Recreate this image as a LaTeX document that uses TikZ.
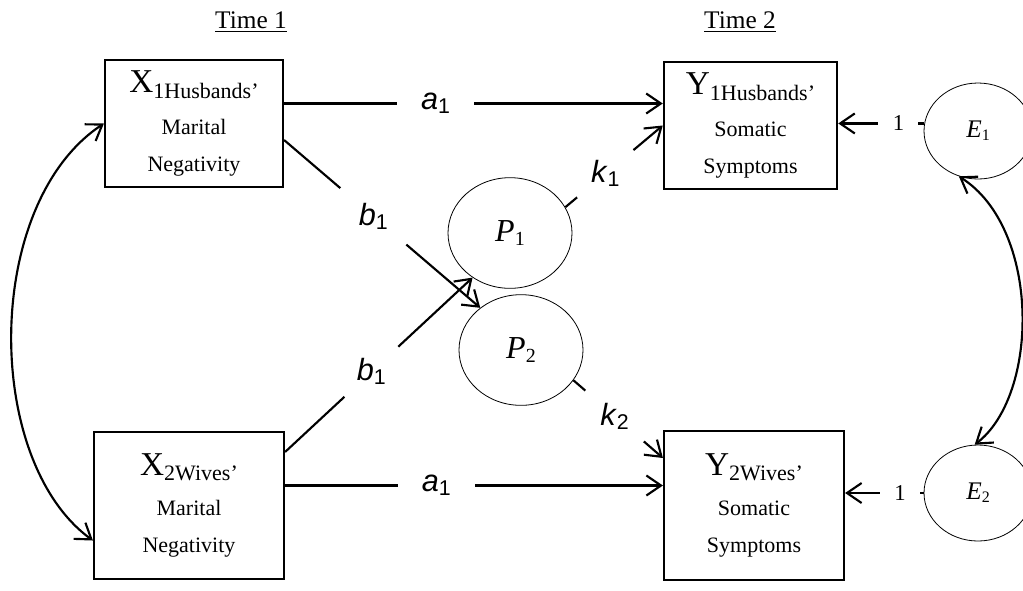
\documentclass[tikz,border=0pt]{standalone}
\usepackage{fontspec}
\setmainfont{Liberation Serif}
\newfontfamily\arialfont{Liberation Sans}
\usepackage{tikz}
\usetikzlibrary{arrows.meta,calc,shapes.geometric}
\newcommand{\coef}[2]{{\arialfont\fontsize{23}{25}\selectfont\textit{#1}\raisebox{-3pt}{\fontsize{16}{18}\selectfont #2}}}
\newcommand{\latvar}[2]{{\fontsize{24}{26}\selectfont\textit{#1}\raisebox{-3pt}{\fontsize{15}{17}\selectfont #2}}}
\newcommand{\errvar}[2]{{\fontsize{19}{21}\selectfont\textit{#1}\raisebox{-2pt}{\fontsize{12}{14}\selectfont #2}}}
\newcommand{\obsvar}[2]{{\fontsize{25}{28}\selectfont #1}\raisebox{-4pt}{#2}}
\tikzset{
  obs/.style={draw, line width=1.6pt, align=center, inner sep=0pt, font=\fontsize{16.5}{28}\selectfont},
  latent/.style={draw, ellipse, line width=0.6pt, inner sep=0pt},
  flow/.style={-{Straight Barb[length=11pt,width=15pt]}, line width=1.6pt},
  cov/.style={{Straight Barb[length=11pt,width=15pt]}-{Straight Barb[length=11pt,width=15pt]}, line width=1.6pt},
  lblgap/.style={fill=white, inner sep=0pt},
  timelbl/.style={font=\fontsize{19}{21}\selectfont}
}

\begin{document}
\begin{tikzpicture}[x=0.75pt, y=-0.75pt]
  \useasboundingbox (0,0) rectangle (1023,590);
  \clip (0,0) rectangle (1023,590);
  \node[timelbl] (t1) at (251,22) {\underline{Time 1}};
  \node[timelbl] (t2) at (740,22) {\underline{Time 2}};
  % observed variables
  \node[obs, minimum width=133.5pt, minimum height=95pt] (x1) at (194,123.5) {\obsvar{X}{1Husbands’}\\[3pt]Marital\\Negativity};
  \node[obs, minimum width=142.5pt, minimum height=110pt] (x2) at (189,505.5) {\obsvar{X}{2Wives’}\\[2pt]Marital\\Negativity};
  \node[obs, minimum width=130pt, minimum height=95pt] (y1) at (750.5,125.5) {\obsvar{Y}{1Husbands’}\\[3pt]Somatic\\Symptoms};
  \node[obs, minimum width=135pt, minimum height=112pt] (y2) at (754,505.5) {\obsvar{Y}{2Wives’}\\[2pt]Somatic\\Symptoms};
  % latent variables
  \node[latent, minimum width=93pt, minimum height=83pt] (p1) at (510,233) {\latvar{P}{1}};
  \node[latent, minimum width=93pt, minimum height=83pt] (p2) at (521,350) {\latvar{P}{2}};
  \node[latent, minimum width=81pt, minimum height=72pt] (e1) at (978,131) {\errvar{E}{1}};
  \node[latent, minimum width=81pt, minimum height=72pt] (e2) at (978,493) {\errvar{E}{2}};
  \coordinate (a1s) at ($(x1.east)+(0,-20)$);
  \coordinate (a2s) at ($(x2.east)+(0,-20)$);
  % paths
  \draw[flow] (a1s) -- node[lblgap, pos=0.40, minimum width=58pt, minimum height=22pt] (a1t) {\coef{a}{1}} (a1s -| y1.west);
  \draw[flow] (a2s) -- node[lblgap, pos=0.40, minimum width=58pt, minimum height=22pt] (a1b) {\coef{a}{1}} (a2s -| y2.west);
  \draw[flow] ($(x1.east)+(0,16.5)$) -- node[lblgap, circle, pos=0.455, minimum size=65pt] (b1t) {\coef{b}{1}} (p2.134);
  \draw[flow] ($(x2.east)+(0,-53.5)$) -- node[lblgap, circle, pos=0.46, minimum size=55pt] (b1b) {\coef{b}{1}} (p1.230);
  \draw[flow] (p1.25) -- node[lblgap, circle, pos=0.41, minimum size=55pt] (k1l) {\coef{k}{1}} (y1.west);
  \draw[flow] (p2.330) -- node[lblgap, circle, pos=0.46, minimum size=58pt] (k2l) {\coef{k}{2}} ($(y2.west)+(0,-47.5)$);
  \draw[flow] (e1.172) -- node[lblgap, pos=0.3, minimum width=30pt, minimum height=16pt, font=\fontsize{17}{19}\selectfont] (w1) {1} (e1.172 -| y1.east);
  \draw[flow] (e2.west) -- node[lblgap, pos=0.3, minimum width=30pt, minimum height=16pt, font=\fontsize{17}{19}\selectfont] (w2) {1} (e2.west -| y2.east);
  % covariances
  \draw[cov] (x1.west) .. controls +(-121,80) and +(-110,-80) .. ($(x2.west)+(0,35)$);
  \draw[cov] (e1.247) .. controls +(82,52) and +(65,-50) .. (e2.94);
\end{tikzpicture}
\end{document}
